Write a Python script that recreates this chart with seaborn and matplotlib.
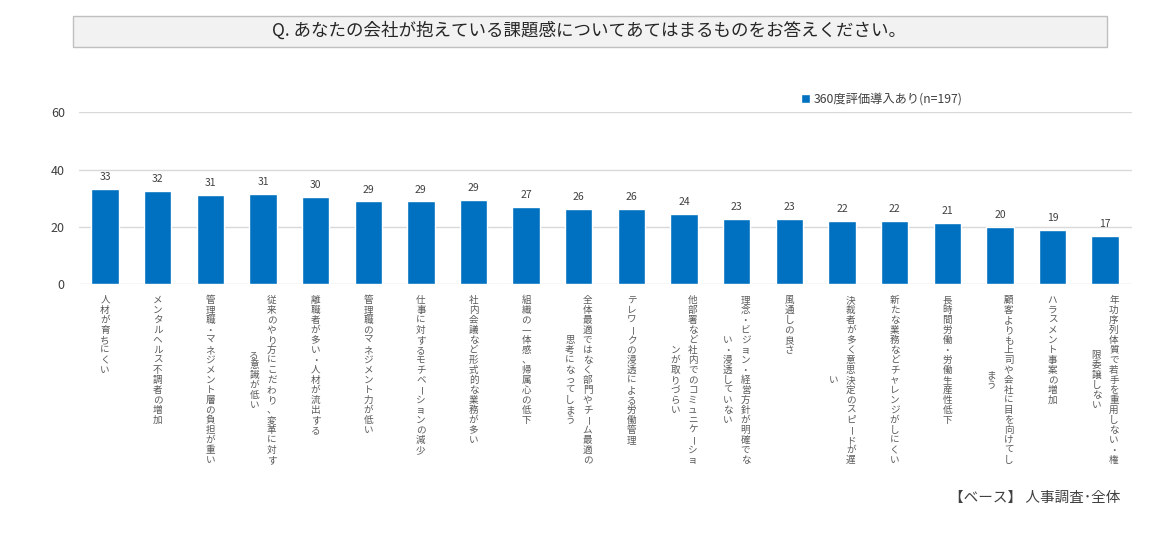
import matplotlib
matplotlib.use("Agg")
import matplotlib.pyplot as plt
from matplotlib.patches import Rectangle
import seaborn as sns
import pandas as pd

# data
categories = [
    "人材が育ちにくい",
    "メンタルヘルス不調者の増加",
    "管理職・マネジメント層の負担が重い",
    "従来のやり方にこだわり、変革に対す\nる意識が低い",
    "離職者が多い・人材が流出する",
    "管理職のマネジメント力が低い",
    "仕事に対するモチベーションの減少",
    "社内会議など形式的な業務が多い",
    "組織の一体感、帰属心の低下",
    "全体最適ではなく部門やチーム最適の\n思考になってしまう",
    "テレワークの浸透による労働管理",
    "他部署など社内でのコミュニケーショ\nンが取りづらい",
    "理念・ビジョン・経営方針が明確でな\nい・浸透していない",
    "風通しの良さ",
    "決裁者が多く意思決定のスピードが遅\nい",
    "新たな業務などチャレンジがしにくい",
    "長時間労働・労働生産性低下",
    "顧客よりも上司や会社に目を向けてし\nまう",
    "ハラスメント事案の増加",
    "年功序列体質で若手を重用しない・権\n限委譲しない",
]
values = [33.1, 32.4, 31.0, 31.4, 30.3, 28.9, 28.9, 29.4, 27.0, 26.3,
          26.3, 24.4, 22.7, 22.7, 22.2, 22.2, 21.3, 19.9, 19.1, 16.8]
series_name = "360度評価導入あり(n=197)"
title = "Q. あなたの会社が抱えている課題感についてあてはまるものをお答えください。"
footer = "【ベース】 人事調査･全体"
yticks = [0, 20, 40, 60]

sns.set_theme(style="white")
plt.rcParams["font.family"] = ["Noto Sans CJK JP", "DejaVu Sans"]

W, H = 1172, 543
fig = plt.figure(figsize=(W / 100, H / 100), dpi=100)
ax = fig.add_axes([78.7 / W, 1 - 284.3 / H, (1131.5 - 78.7) / W, (284.3 - 112.3) / H])

df = pd.DataFrame({"cat": [str(i) for i in range(len(values))], "val": values})
sns.barplot(data=df, x="cat", y="val", color="#0070C0", saturation=1,
            width=0.52, label=series_name, ax=ax)

ax.set_xlim(-0.5, len(values) - 0.5)
ax.set_ylim(0, 60)
ax.set_yticks(yticks)
ax.set_yticklabels([str(t) for t in yticks], fontsize=9, color="#404040")
ax.tick_params(axis="y", length=0, pad=10)
ax.set_xticks(range(len(values)))
ax.set_xticklabels([])
ax.tick_params(axis="x", length=0)
ax.set_xlabel("")
ax.set_ylabel("")
for t in yticks:
    ax.axhline(t, color="#d9d9d9", lw=1, zorder=0)
for s in ax.spines.values():
    s.set_visible(False)

# value labels
for c in ax.containers:
    ax.bar_label(c, labels=[f"{v:.0f}" for v in c.datavalues], padding=5,
                 fontsize=7.5, color="#404040")

# vertical (stacked) category labels, columns centred on the first one
step = 7.2
for i, lab in enumerate(categories):
    cols = lab.split("\n")
    n = len(cols)
    first_len = len(cols[0])
    for j, col in enumerate(cols):
        dx = (n - 1) * 6.3 - j * 12.6
        start = (first_len - len(col)) / 2 * step
        for k, ch in enumerate(col):
            rot = -90 if ch == "ー" else 0
            ax.annotate(ch, xy=(i, 0), xycoords=("data", "axes fraction"),
                        xytext=(dx, -8 - start - k * step - step / 2),
                        textcoords="offset points",
                        ha="center", va="center", fontsize=6.9, color="#595959",
                        rotation=rot, rotation_mode="anchor", annotation_clip=False)

# legend
if ax.legend_:
    ax.legend_.remove()
h, l = ax.get_legend_handles_labels()
fig.legend(h, l, loc="center", bbox_to_anchor=(882 / W, 1 - 99 / H), frameon=False,
           fontsize=8.8, handlelength=0.7, handleheight=0.7, handletextpad=0.3,
           labelcolor="#404040")

# title box
fig.patches.append(Rectangle((73 / W, 1 - 46.7 / H), (1107 - 73) / W, 30.7 / H,
                             transform=fig.transFigure, facecolor="#f2f2f2",
                             edgecolor="#bfbfbf", lw=1))
fig.text(589 / W, 1 - 31 / H, title, ha="center", va="center", fontsize=12.6,
         color="#262626")

fig.text(1120 / W, 1 - 498 / H, footer, ha="right", va="center", fontsize=10.5,
         color="#404040")

fig.savefig("out.png", dpi=100)
